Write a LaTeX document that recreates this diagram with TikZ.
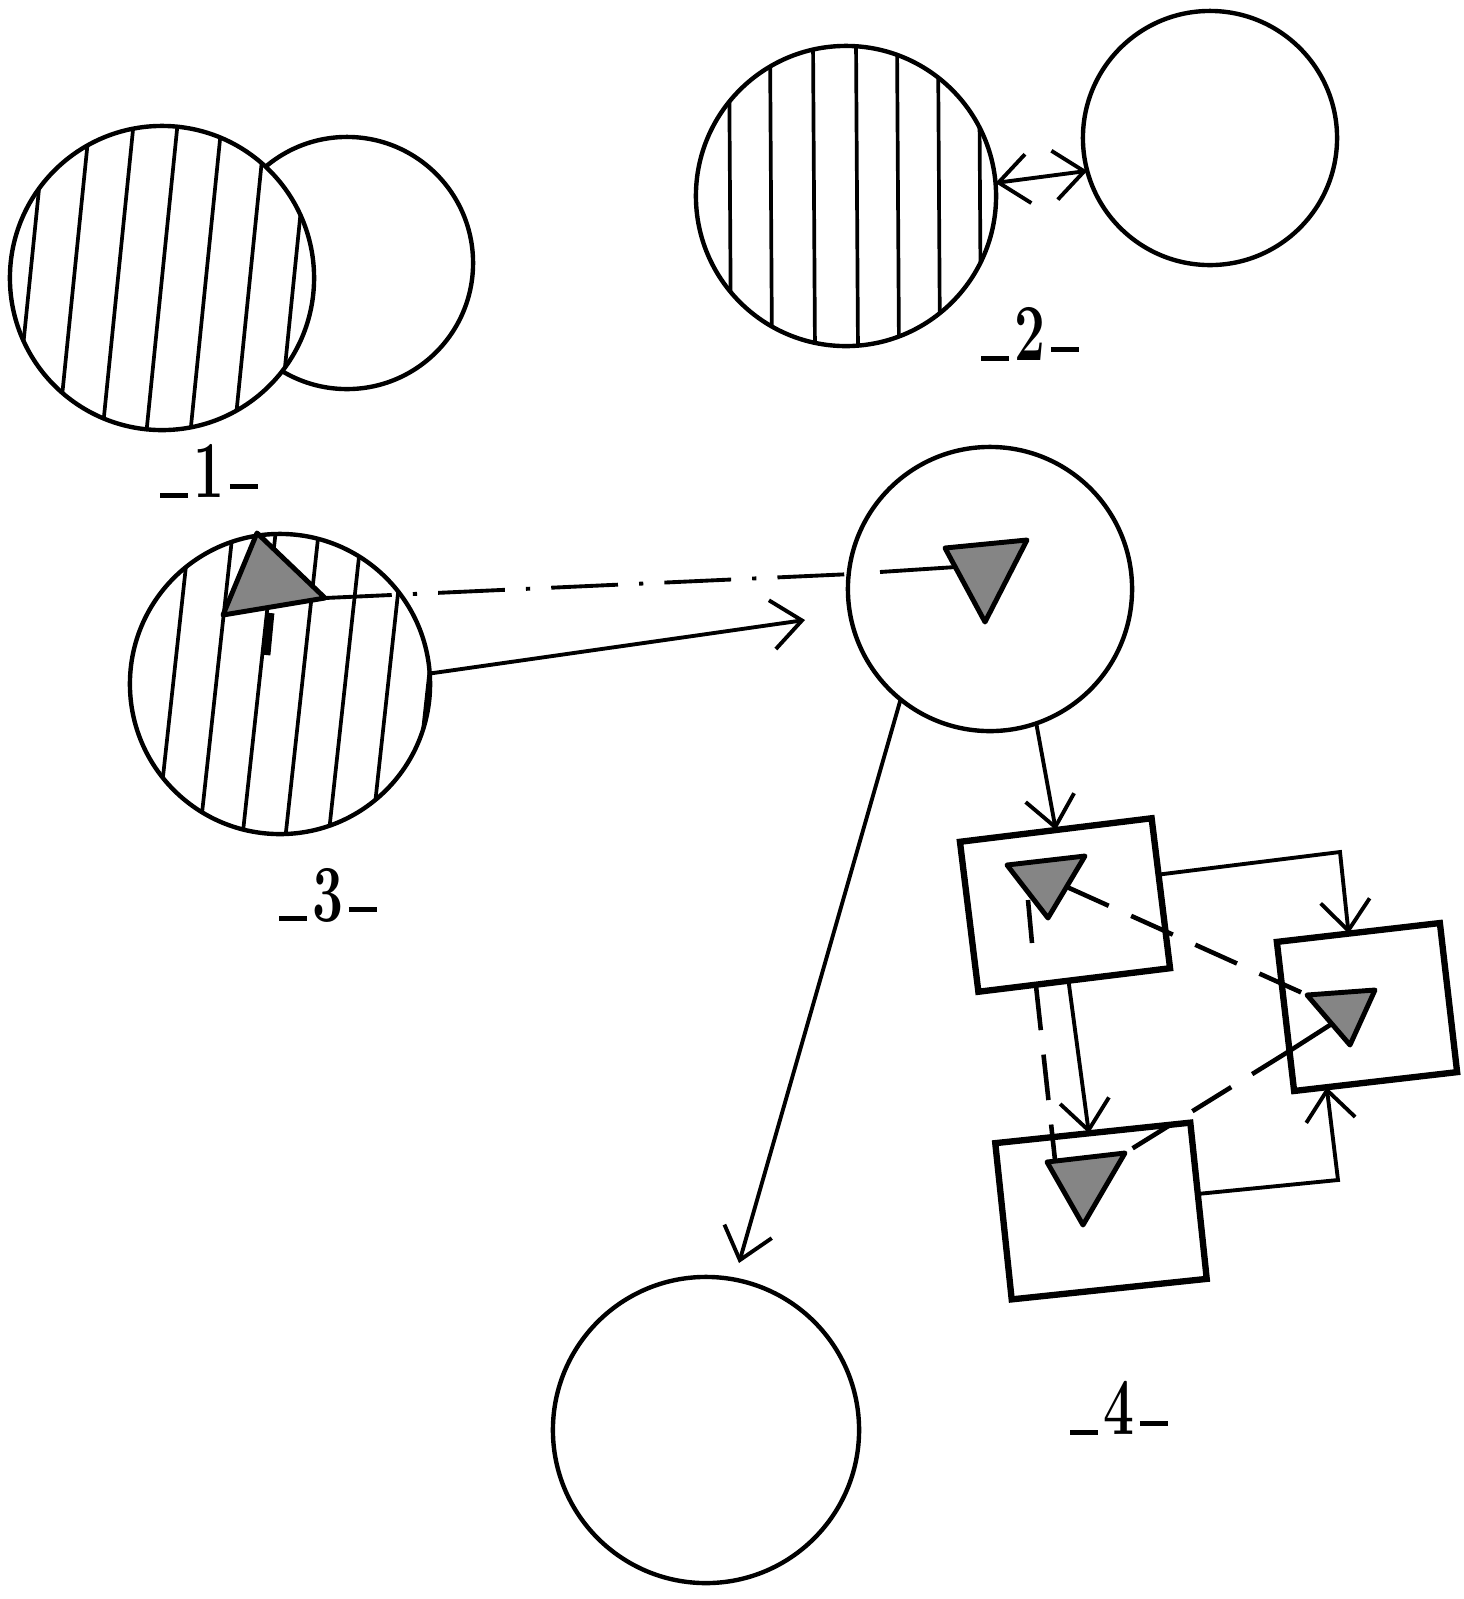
\documentclass[tikz,border=0pt]{standalone}
\usetikzlibrary{arrows.meta,calc}
\newcommand\mylab[1]{\rule{8pt}{1.4pt}\hspace{1.5pt}\scalebox{0.68}[1]{#1}\hspace{1.5pt}\raisebox{2.5pt}{\rule{8pt}{1.4pt}}}
\begin{document}
\begin{tikzpicture}[x=0.01cm,y=-0.01cm,
  ring/.style={circle,draw,line width=1.25pt,inner sep=0pt,outer sep=0pt,fill=white},
  boxr/.style={rectangle,draw,line width=1.8pt,inner sep=0pt,outer sep=0pt,fill=white},
  hatch/.style={line width=1.05pt},
  barb/.tip={Straight Barb[length=8.5pt,width=14pt,line width=1.1pt]},
  arr/.style={line width=1.1pt,-barb},
  dashdot/.style={line width=1.1pt,dash pattern=on 19pt off 6pt on 1.2pt off 6pt},
  dsh/.style={line width=1.3pt,dash pattern=on 13pt off 7pt},
  tri/.style={draw,line width=1.4pt,fill=black!48,line join=round},
  lbl/.style={font=\fontsize{23}{23}\selectfont\bfseries,inner sep=0pt}]
\useasboundingbox (0,0) rectangle (1464,1599);

% ---------- group 1 ----------
\node[ring,minimum size=2.52cm] (c1b) at (347,263) {};
\node[ring,minimum size=3.04cm] (c1a) at (162,278) {};
\begin{scope}
  \clip (162,278) circle[radius=151];
  \foreach \x in {30,74,118,162,206,250,294}
    \draw[hatch] (\x+17,110) -- (\x-17,446);
\end{scope}
\node[lbl] (l1) at (209,471) {\mylab{1}};

% ---------- group 2 ----------
\node[ring,minimum size=3.0cm] (c2a) at (846,196) {};
\begin{scope}
  \clip (846,196) circle[radius=149];
  \foreach \x in {729,770,813,856,897,938,979}
    \draw[hatch] (\x,40) -- (\x+2,352);
\end{scope}
\node[ring,minimum size=2.54cm] (c2b) at (1210,138) {};
\draw[line width=1.1pt,barb-barb] (c2a.5) -- (c2b.195);
\node[lbl] (l2) at (1030,334) {\mylab{2}};

% ---------- group 3 ----------
\node[ring,minimum size=3.0cm] (c3) at (280,684) {};
\begin{scope}
  \clip (280,684) circle[radius=149];
  \foreach \x in {173,216,259,302,345,388,428}
    \draw[hatch] (\x+18,520) -- (\x-18,850);
\end{scope}
\coordinate (t3a) at (257,533);
\coordinate (t3r) at (325,598);
\coordinate (t3b) at (223,615);
\draw[tri] (t3a) -- (t3r) -- (t3b) -- cycle;
\draw[line width=2.5pt] (270,613) -- (266,655);
\node[lbl] (l3) at (328,895) {\mylab{3}};

% ---------- middle circle ----------
\node[ring,minimum size=2.84cm] (cm) at (990,589) {};
\coordinate (tma) at (945,548);
\coordinate (tmb) at (1027,540);
\coordinate (tmc) at (985,622);
\draw[tri] (tma) -- (tmb) -- (tmc) -- cycle;
\coordinate (tmL) at (956,567);
\coordinate (cmin) at (880,572);
\draw[dashdot] (t3r) -- (cm.174);
\draw[line width=1.1pt] (cmin) -- (tmL);

\coordinate (a1end) at (805,620);
\draw[arr] (c3.4) -- (a1end);

% ---------- bottom circle ----------
\node[ring,minimum size=3.06cm] (cb) at (706,1430) {};
\coordinate (a2end) at (739,1263);
\draw[arr] (cm.231) -- (a2end);

% ---------- group 4 ----------
\node[boxr,minimum width=1.93cm,minimum height=1.51cm,rotate=7] (b1) at (1065,905) {};
\node[boxr,minimum width=1.64cm,minimum height=1.50cm,rotate=6.6] (b2) at (1367,1007) {};
\node[boxr,minimum width=1.96cm,minimum height=1.57cm,rotate=6] (b3) at (1101,1211) {};

\coordinate (t1a) at (1007,865);
\coordinate (t1b) at (1085,856);
\coordinate (t1c) at (1048,918);
\draw[tri] (t1a) -- (t1b) -- (t1c) -- cycle;
\draw[line width=1.3pt] (1028,900) -- (1032,943);

\coordinate (t2a) at (1307,995);
\coordinate (t2b) at (1375,990);
\coordinate (t2c) at (1350,1045);
\draw[tri] (t2a) -- (t2b) -- (t2c) -- cycle;

\coordinate (t4a) at (1047,1162);
\coordinate (t4b) at (1125,1153);
\coordinate (t4c) at (1083,1225);
\draw[tri] (t4a) -- (t4b) -- (t4c) -- cycle;

\draw[arr] (cm.-71) -- (b1.north);

\coordinate (e1) at (1340,852);
\draw[arr] (b1.11) -- (e1) -- ($(b2.north west)!0.44!(b2.north east)$);
\coordinate (e2) at (1338,1180);
\draw[arr] (b3.4) -- (e2) -- ($(b2.south west)!0.2!(b2.south east)$);
\draw[arr] ($(b1.south west)!0.47!(b1.south east)$) -- ($(b3.north west)!0.48!(b3.north east)$);

\coordinate (t1r) at (1067,887);
\coordinate (t4top) at (1055,1160);
\coordinate (t2m) at (1330,1025);
\coordinate (b2in) at (1291,1050);
\draw[dsh] ($(b1.south west)!0.3!(b1.south east)$) -- (t4top);
\draw[dsh] (t1r) -- (t2a);
\draw[dsh] (b2in) -- (t4b);
\draw[line width=1.3pt] (t2m) -- (b2in);

\node[lbl] (l4) at (1119,1408) {\mylab{4}};
\end{tikzpicture}
\end{document}
